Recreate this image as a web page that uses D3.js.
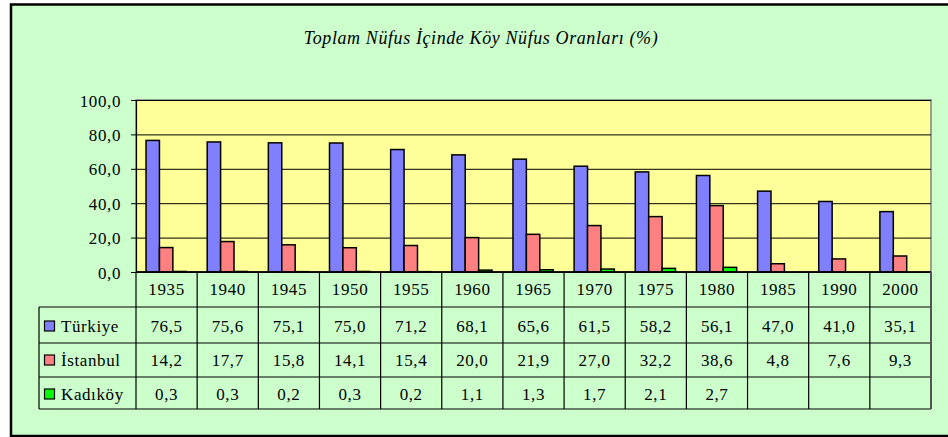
<!DOCTYPE html>
<html>
<head>
<meta charset="utf-8">
<script src="https://cdn.jsdelivr.net/npm/d3@7"></script>
<style>
  body { margin: 0; background: #fff; }
</style>
</head>
<body>
<div id="chart"></div>
<script>
// Chart data
const years = ['1935', '1940', '1945', '1950', '1955', '1960', '1965', '1970', '1975', '1980', '1985', '1990', '2000'];
const turkiye = [76.5, 75.6, 75.1, 75.0, 71.2, 68.1, 65.6, 61.5, 58.2, 56.1, 47.0, 41.0, 35.1];
const istanbul = [14.2, 17.7, 15.8, 14.1, 15.4, 20.0, 21.9, 27.0, 32.2, 38.6, 4.8, 7.6, 9.3];
const kadikoy = [0.3, 0.3, 0.2, 0.3, 0.2, 1.1, 1.3, 1.7, 2.1, 2.7, null, null, null];
const yTicks = [0, 20, 40, 60, 80, 100];
const seriesNames = ['Türkiye', 'İstanbul', 'Kadıköy'];
const chartTitle = 'Toplam Nüfus İçinde Köy Nüfus Oranları (%)';

const width = 948, height = 437;
const plot = { left: 136, right: 931, top: 100, bottom: 272 };
const colors = ['#8080ff', '#ff8080', '#00ff00'];
const serif = 'Liberation Serif, DejaVu Serif, Tinos, Times New Roman, serif';
const fmt = v => v.toFixed(1).replace('.', ',');

const svg = d3.select('#chart').append('svg')
    .attr('width', width)
    .attr('height', height)
    .attr('font-family', serif);

// Chart background + frame
svg.append('rect')
    .attr('x', 0).attr('y', 0)
    .attr('width', width).attr('height', height)
    .attr('fill', '#ffffff');

svg.append('rect')
    .attr('x', 11).attr('y', 4.5)
    .attr('width', 960).attr('height', 431.5)
    .attr('fill', '#ccffcc')
    .attr('stroke', '#000')
    .attr('stroke-width', 2.5);

// Title
svg.append('text')
    .attr('x', 481)
    .attr('y', 44)
    .attr('text-anchor', 'middle')
    .attr('font-family', serif)
    .attr('font-size', 18)
    .attr('letter-spacing', 0.6)
    .attr('font-style', 'italic')
    .attr('fill', '#000')
    .text(chartTitle);

// Scales
const x = d3.scaleBand()
    .domain(years)
    .range([plot.left, plot.right])
    .paddingInner(0)
    .paddingOuter(0);

const xSeries = d3.scaleBand()
    .domain(seriesNames)
    .range([0, x.bandwidth()])
    .paddingInner(0)
    .paddingOuter(0.78)
    .align(0.48);

const y = d3.scaleLinear()
    .domain([0, 100])
    .range([plot.bottom, plot.top]);

// Plot area
svg.append('rect')
    .attr('x', plot.left)
    .attr('y', plot.top)
    .attr('width', plot.right - plot.left)
    .attr('height', plot.bottom - plot.top)
    .attr('fill', '#ffff99')
    .attr('stroke', '#808080')
    .attr('stroke-width', 1.5);

// Gridlines
svg.append('g')
    .attr('transform', `translate(${plot.left}, 0)`)
    .call(d3.axisLeft(y).tickValues(yTicks).tickSize(-(plot.right - plot.left)).tickFormat(''))
    .call(g => g.select('.domain').remove())
    .call(g => g.selectAll('line').attr('stroke', '#000').attr('stroke-width', 1));

// Y axis
svg.append('g')
    .attr('transform', `translate(${plot.left}, 0)`)
    .call(d3.axisLeft(y).tickValues(yTicks).tickSize(5).tickPadding(10).tickFormat(fmt))
    .attr('font-family', serif)
    .attr('font-size', 17)
    .call(g => g.select('.domain').attr('stroke', '#000').attr('stroke-width', 1.2))
    .call(g => g.selectAll('line').attr('stroke', '#000'))
    .call(g => g.selectAll('text')
        .attr('dy', '0.36em')
        .attr('letter-spacing', 0.6)
        .attr('fill', '#000'));

// Bars
const allSeries = [turkiye, istanbul, kadikoy];
allSeries.forEach((values, si) => {
    const data = values.map((v, i) => ({ year: years[i], value: v }))
        .filter(d => d.value !== null);
    svg.append('g')
        .selectAll('rect')
        .data(data)
        .enter()
        .append('rect')
        .attr('x', d => x(d.year) + xSeries(seriesNames[si]))
        .attr('y', d => y(d.value))
        .attr('width', xSeries.bandwidth())
        .attr('height', d => y(0) - y(d.value))
        .attr('fill', colors[si])
        .attr('stroke', '#000')
        .attr('stroke-width', 1.5);
});

// X axis line
svg.append('line')
    .attr('x1', plot.left).attr('x2', plot.right)
    .attr('y1', plot.bottom).attr('y2', plot.bottom)
    .attr('stroke', '#000')
    .attr('stroke-width', 1.5);

// Data table
const rowEdges = [272, 307, 343, 377, 409];
const legendLeft = 39;
const table = svg.append('g')
    .attr('stroke', '#000')
    .attr('stroke-width', 1.2)
    .attr('fill', 'none');

// horizontal lines
table.append('line').attr('x1', plot.left).attr('x2', plot.right).attr('y1', rowEdges[0]).attr('y2', rowEdges[0]);
rowEdges.slice(1).forEach(ry => {
    table.append('line').attr('x1', legendLeft).attr('x2', plot.right).attr('y1', ry).attr('y2', ry);
});
// vertical lines
years.forEach(yr => {
    table.append('line')
        .attr('x1', x(yr)).attr('x2', x(yr))
        .attr('y1', rowEdges[0]).attr('y2', rowEdges[4]);
});
table.append('line')
    .attr('x1', plot.right).attr('x2', plot.right)
    .attr('y1', rowEdges[0]).attr('y2', rowEdges[4])
    .attr('stroke', '#555').attr('stroke-width', 2);
table.append('line')
    .attr('x1', legendLeft).attr('x2', legendLeft)
    .attr('y1', rowEdges[1]).attr('y2', rowEdges[4]);

const cellText = (g, xPos, yPos, txt, anchor) => g.append('text')
    .attr('x', xPos)
    .attr('y', yPos)
    .attr('text-anchor', anchor || 'middle')
    .attr('font-family', serif)
    .attr('font-size', 17)
    .attr('letter-spacing', 0.6)
    .attr('fill', '#000')
    .text(txt);

const textG = svg.append('g');

// header
years.forEach(yr => cellText(textG, x(yr) + x.bandwidth() / 2, 295, yr));

// rows
const baselines = [332, 366, 400];
allSeries.forEach((values, si) => {
    values.forEach((v, i) => {
        if (v === null) return;
        cellText(textG, x(years[i]) + x.bandwidth() / 2, baselines[si], fmt(v));
    });
    // legend key
    textG.append('rect')
        .attr('x', 44.5)
        .attr('y', baselines[si] - 11)
        .attr('width', 10)
        .attr('height', 10)
        .attr('fill', colors[si])
        .attr('stroke', '#000')
        .attr('stroke-width', 1.2);
    cellText(textG, 61, baselines[si], seriesNames[si], 'start');
});
</script>
</body>
</html>
